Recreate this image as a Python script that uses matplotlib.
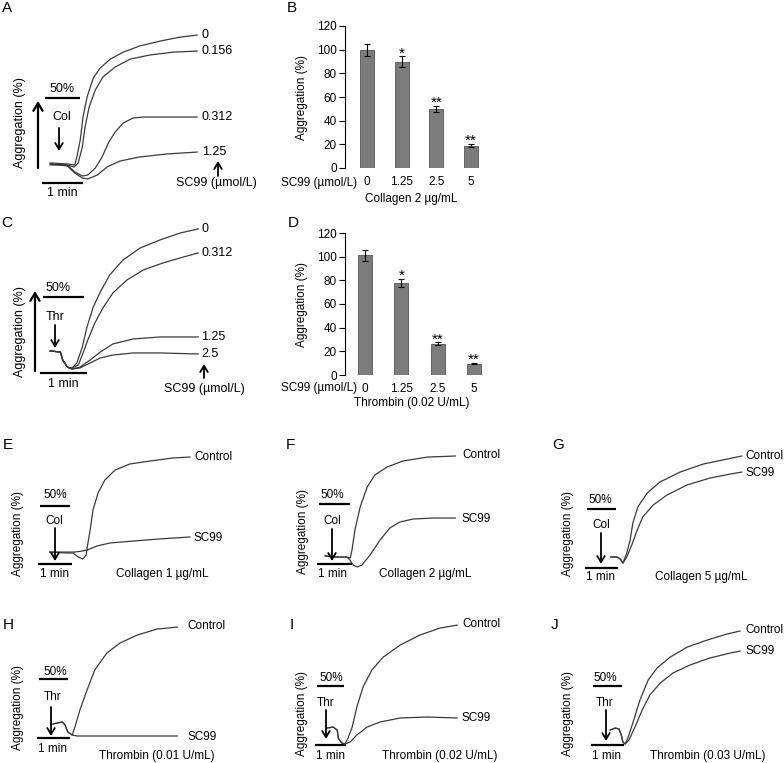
import numpy as np
import matplotlib
matplotlib.use('Agg')
import matplotlib.pyplot as plt
from matplotlib.patches import FancyArrowPatch

plt.rcParams['font.family'] = ['Liberation Sans', 'DejaVu Sans']

# ---- bar data (panels B, D) ----
doses = ['0', '1.25', '2.5', '5']
B_mean = [100, 90, 50, 19]
B_err = [5, 4.5, 2.5, 1.2]
D_mean = [101, 78, 26.5, 9.5]
D_err = [4.5, 3.5, 1.2, 0.6]
sig = ['', '*', '**', '**']

# ---- aggregation traces: time (s) and aggregation (%) ----
A_t_0 = [12, 37, 48, 51, 56, 60, 66, 75, 85, 100, 119, 143, 173, 202, 227]
A_a_0 = [11.8, 11.2, 10.6, 15.3, 25.3, 38.8, 50.6, 61.7, 67.6, 72.9, 77.0, 80.6, 83.5, 85.8, 87.0]
A_t_0156 = [12, 37, 47, 53, 59, 63, 69, 78, 89, 107, 129, 158, 192, 227]
A_a_0156 = [10.6, 10.6, 9.4, 11.8, 21.2, 32.9, 44.7, 54.7, 62.3, 68.2, 72.9, 75.3, 77.0, 77.6]
A_t_0312 = [12, 37, 48, 59, 67, 78, 88, 97, 107, 119, 133, 148, 183, 227]
A_a_0312 = [11.2, 10.6, 6.5, 4.1, 4.7, 8.8, 15.3, 23.5, 30.0, 35.3, 38.2, 38.8, 38.8, 38.8]
A_t_125 = [12, 37, 48, 59, 67, 81, 95, 114, 143, 183, 227]
A_a_125 = [11.2, 10.0, 5.9, 2.9, 2.4, 4.7, 9.4, 12.9, 15.3, 17.1, 18.2]

C_t_0 = [13, 26, 29, 35, 38, 41, 47, 54, 60, 68, 77, 89, 106, 128, 153, 179, 202]
C_a_0 = [14.5, 13.8, 8.6, 3.9, 3.3, 3.3, 6.6, 17.1, 30.3, 43.4, 53.3, 64.5, 74.4, 82.3, 87.5, 92.1, 94.8]
C_t_0312 = [13, 26, 29, 35, 38, 41, 49, 55, 61, 70, 81, 93, 111, 132, 157, 183, 202]
C_a_0312 = [14.5, 13.8, 8.6, 3.9, 3.3, 3.3, 5.3, 13.2, 21.7, 32.9, 43.4, 52.6, 61.2, 67.8, 72.4, 76.3, 79.0]
C_t_125 = [13, 26, 29, 35, 38, 41, 51, 64, 77, 93, 119, 153, 202]
C_a_125 = [14.5, 13.8, 8.6, 3.9, 3.3, 2.6, 3.9, 8.6, 13.8, 19.1, 22.4, 23.7, 23.7]
C_t_25 = [13, 26, 29, 35, 38, 41, 51, 64, 77, 93, 119, 153, 202]
C_a_25 = [14.5, 13.8, 8.6, 3.9, 3.3, 2.6, 3.3, 6.6, 9.9, 11.8, 13.2, 13.2, 12.5]

E_t_ctrl = [21, 51, 62, 71, 79, 85, 87, 92, 97, 106, 118, 136, 162, 198, 238, 268]
E_a_ctrl = [10.3, 9.5, 9.5, 6.0, 4.3, 7.8, 14.7, 29.3, 46.5, 61.2, 72.4, 81.0, 86.2, 88.8, 91.4, 92.2]
E_t_sc99 = [21, 51, 65, 78, 87, 104, 127, 168, 215, 268]
E_a_sc99 = [10.3, 10.3, 10.3, 11.2, 12.1, 15.5, 18.1, 19.8, 21.6, 23.3]

F_t_ctrl = [14, 34, 51, 57, 60, 65, 74, 86, 99, 120, 147, 189, 237]
F_a_ctrl = [6.7, 5.8, 5.8, 5.0, 11.7, 28.3, 47.5, 64.1, 74.1, 80.8, 85.8, 89.1, 90.0]
F_t_sc99 = [14, 34, 51, 55, 62, 69, 77, 91, 108, 125, 142, 165, 199, 237]
F_a_sc99 = [6.7, 5.8, 5.8, 4.2, -0.8, -2.5, -0.8, 7.5, 20.0, 30.0, 35.0, 37.5, 38.3, 38.3]

G_t_ctrl = [47, 58, 64, 69, 76, 82, 87, 96, 113, 136, 173, 215, 258, 285]
G_a_ctrl = [9.3, 9.3, 7.6, 4.2, 12.7, 23.7, 38.1, 51.7, 63.5, 72.8, 81.3, 88.1, 92.3, 94.9]
G_t_sc99 = [47, 58, 64, 69, 76, 85, 95, 105, 124, 149, 185, 227, 264, 285]
G_a_sc99 = [9.3, 9.3, 7.6, 4.2, 9.3, 19.5, 32.2, 43.2, 53.4, 61.8, 70.3, 76.2, 79.6, 81.3]

H_t_ctrl = [29, 46, 51, 56, 64, 69, 78, 91, 105, 127, 151, 182, 218, 255]
H_a_ctrl = [11.9, 13.6, 11.0, 5.1, 2.5, 9.3, 23.7, 40.7, 57.6, 72.0, 80.5, 87.2, 92.3, 94.0]
H_t_sc99 = [29, 46, 51, 56, 64, 73, 115, 175, 255]
H_a_sc99 = [11.9, 13.6, 11.0, 5.1, 2.5, 1.7, 1.7, 1.7, 1.7]

I_t_ctrl = [23, 35, 43, 45, 52, 58, 64, 72, 81, 93, 110, 132, 165, 203, 242, 275]
I_a_ctrl = [14.4, 15.2, 12.7, 5.9, 1.7, 0.8, 5.9, 15.2, 32.2, 49.1, 63.5, 74.5, 84.7, 93.2, 99.1, 101.6]
I_t_sc99 = [23, 35, 43, 45, 52, 58, 68, 81, 101, 126, 165, 217, 275]
I_a_sc99 = [14.4, 15.2, 12.7, 5.9, 1.7, 0.8, 2.5, 8.5, 15.2, 19.5, 22.9, 23.7, 22.9]

J_t_ctrl = [35, 44, 51, 55, 58, 62, 67, 76, 89, 104, 120, 144, 175, 211, 247, 271]
J_a_ctrl = [12.7, 14.4, 13.6, 8.5, 2.5, 0.8, 5.9, 18.6, 38.1, 55.1, 65.2, 74.5, 83.0, 88.9, 94.0, 96.6]
J_t_sc99 = [35, 44, 51, 55, 58, 62, 69, 80, 93, 107, 126, 149, 180, 216, 253, 271]
J_a_sc99 = [12.7, 14.4, 13.6, 8.5, 2.5, 0.8, 4.2, 15.2, 29.6, 42.4, 52.5, 61.0, 67.8, 73.7, 77.9, 79.6]

W, H = 784, 763
fig = plt.figure(figsize=(W / 100, H / 100), dpi=100)
FS = 8.5
TRACE = '#3a3a3a'


def ptext(x, y, s, size=FS, ha='center', va='center', **kw):
    # place text using pixel coords measured from the top-left corner
    fig.text(x / W, 1 - y / H, s, fontsize=size, ha=ha, va=va, **kw)


def parrow(x, y_from, y_to, lw=1.3, ms=9):
    fig.add_artist(FancyArrowPatch((x / W, 1 - y_from / H), (x / W, 1 - y_to / H),
                                   transform=fig.transFigure, shrinkA=0, shrinkB=0,
                                   arrowstyle='->,head_length=0.5,head_width=0.3',
                                   mutation_scale=ms, lw=lw, color='black'))


def trace_axes(ox, oy, ppm, pp50, tmax=300):
    # ox, oy: pixel position of the left end of the 1-min bar
    pps = ppm / 60.0
    ppa = pp50 / 50.0
    t0, t1, a0, a1 = -30, tmax, -15, 115
    left = ox + t0 * pps
    right = ox + t1 * pps
    top = oy - a1 * ppa
    bottom = oy - a0 * ppa
    ax = fig.add_axes([left / W, 1 - bottom / H, (right - left) / W, (bottom - top) / H])
    ax.set_xlim(t0, t1)
    ax.set_ylim(a0, a1)
    ax.axis('off')
    ax.patch.set_alpha(0)
    ax.plot([0, 60], [0, 0], color='black', lw=1.6, solid_capstyle='butt', clip_on=False)
    ax.plot([4, 56], [50, 50], color='black', lw=1.6, solid_capstyle='butt', clip_on=False)
    return ax


def draw(ax, t, a):
    ax.plot(t, a, color=TRACE, lw=0.9, clip_on=False)


def bar_panel(top, bottom, zero_px, step_px, means, errs):
    left, right = 345, 492
    ax = fig.add_axes([left / W, 1 - bottom / H, (right - left) / W, (bottom - top) / H])
    x = np.arange(len(means))
    ax.bar(x, means, width=14 / step_px, color='#7c7c7c', edgecolor='#555555', lw=0.6)
    ax.errorbar(x, means, yerr=errs, fmt='none', ecolor='black', elinewidth=0.8,
                capsize=2, capthick=0.8)
    for xi, m, e, s in zip(x, means, errs, sig):
        if s:
            ax.text(xi, m + e - 1, s, ha='center', va='baseline', fontsize=11)
    ax.set_ylim(0, 120)
    ax.set_yticks(range(0, 121, 20))
    ax.set_xlim((left - zero_px) / step_px, (right - zero_px) / step_px)
    ax.set_xticks(x, doses)
    for sp in ['top', 'right', 'bottom']:
        ax.spines[sp].set_visible(False)
    ax.spines['left'].set_linewidth(0.8)
    ax.tick_params(axis='y', length=4, width=0.8, pad=2, labelsize=FS)
    ax.tick_params(axis='x', length=0, pad=6, labelsize=FS)
    return ax


# ---------- panel A ----------
ax = trace_axes(42, 183, 41, 85)
for t, a in [(A_t_0, A_a_0), (A_t_0156, A_a_0156), (A_t_0312, A_a_0312), (A_t_125, A_a_125)]:
    draw(ax, t, a)
ptext(7, 8, 'A', size=11)
ptext(62, 89, '50%', size=9)
ptext(62, 117, 'Col', size=9)
parrow(59, 128, 151)
ptext(62, 193, '1 min', size=9)
parrow(38, 168, 101, lw=1.6, ms=11)
ptext(20, 123, 'Aggregation (%)', size=9, rotation=90)
for lab, y in [('0', 35), ('0.156', 51), ('0.312', 117), ('1.25', 152)]:
    ptext(202, y, lab, size=9, ha='left')
parrow(218, 176, 161)
ptext(216, 183, 'SC99 (\u00b5mol/L)', size=9)

# ---------- panel B ----------
bar_panel(26, 168, 367, 34.7, B_mean, B_err)
ptext(292, 8, 'B', size=11)
ptext(302, 97, 'Aggregation (%)', rotation=90)
ptext(357, 183, 'SC99 (\u00b5mol/L)', ha='right')
ptext(411, 199, 'Collagen 2 \u00b5g/mL')

# ---------- panel C ----------
ax = trace_axes(40, 373, 47, 76)
for t, a in [(C_t_0, C_a_0), (C_t_0312, C_a_0312), (C_t_125, C_a_125), (C_t_25, C_a_25)]:
    draw(ax, t, a)
ptext(7, 223, 'C', size=11)
ptext(58, 288, '50%', size=9)
ptext(55, 317, 'Thr', size=9)
parrow(55, 325, 348)
ptext(63, 384, '1 min', size=9)
parrow(35, 371, 291, lw=1.6, ms=11)
ptext(20, 332, 'Aggregation (%)', size=9, rotation=90)
for lab, y in [('0', 229), ('0.312', 253), ('1.25', 337), ('2.5', 354)]:
    ptext(201, y, lab, size=9, ha='left')
parrow(204, 378, 364)
ptext(204, 389, 'SC99 (\u00b5mol/L)', size=9)

# ---------- panel D ----------
bar_panel(233, 375, 365, 36.3, D_mean, D_err)
ptext(293, 223, 'D', size=11)
ptext(302, 305, 'Aggregation (%)', rotation=90)
ptext(357, 388, 'SC99 (\u00b5mol/L)', ha='right')
ptext(412, 403, 'Thrombin (0.02 U/mL)')

# ---------- panels E-J ----------
small = [
    # letter, letter pos, origin, px/min, px/50%, agonist, traces, control y, sc99 y, label x,
    # ylabel pos, 50% pos, agonist label pos, arrow x, arrow y, 1 min pos, condition text pos, condition
    ('E', (8, 445), (38, 564), 34, 58, 'Col', (E_t_ctrl, E_a_ctrl), (E_t_sc99, E_a_sc99), 457, 538, 194,
     (18, 533), (55, 495), (54, 521), 55, (528, 561), (55, 574), (162, 574), 'Collagen 1 \u00b5g/mL'),
    ('F', (290, 445), (317, 564), 35, 60, 'Col', (F_t_ctrl, F_a_ctrl), (F_t_sc99, F_a_sc99), 455, 519, 462,
     (303, 532), (332, 495), (332, 521), 332, (529, 561), (333, 574), (425, 574), 'Collagen 2 \u00b5g/mL'),
    ('G', (558, 445), (585, 568), 33, 59, 'Col', (G_t_ctrl, G_a_ctrl), (G_t_sc99, G_a_sc99), 456, 473, 745,
     (568, 533), (600, 500), (601, 525), 601, (533, 564), (601, 577), (701, 577), 'Collagen 5 \u00b5g/mL'),
    ('H', (8, 625), (37, 738), 33, 59, 'Thr', (H_t_ctrl, H_a_ctrl), (H_t_sc99, H_a_sc99), 626, 737, 187,
     (18, 707), (55, 672), (53, 697), 51, (707, 736), (52, 749), (157, 756), 'Thrombin (0.01 U/mL)'),
    ('I', (292, 625), (315, 745), 31, 59, 'Thr', (I_t_ctrl, I_a_ctrl), (I_t_sc99, I_a_sc99), 624, 718, 462,
     (302, 713), (331, 678), (326, 703), 326, (710, 739), (330, 756), (440, 756), 'Thrombin (0.02 U/mL)'),
    ('J', (555, 625), (591, 745), 33, 59, 'Thr', (J_t_ctrl, J_a_ctrl), (J_t_sc99, J_a_sc99), 630, 651, 745,
     (568, 713), (605, 678), (605, 703), 606, (710, 741), (606, 756), (708, 756), 'Thrombin (0.03 U/mL)'),
]

for (letter, lpos, org, ppm, pp50, agon, ctrl, sc, yc, ys, lx,
     ylab, p50, pag, arx, ary, pmin, pcond, cond) in small:
    ax = trace_axes(org[0], org[1], ppm, pp50)
    draw(ax, *ctrl)
    draw(ax, *sc)
    ptext(lpos[0], lpos[1], letter, size=11)
    ptext(ylab[0], ylab[1], 'Aggregation (%)', rotation=90)
    ptext(p50[0], p50[1], '50%')
    ptext(pag[0], pag[1], agon)
    parrow(arx, ary[0], ary[1])
    ptext(pmin[0], pmin[1], '1 min')
    ptext(pcond[0], pcond[1], cond)
    ptext(lx, yc, 'Control', ha='left')
    ptext(lx, ys, 'SC99', ha='left')

fig.savefig('out.png', dpi=100)
